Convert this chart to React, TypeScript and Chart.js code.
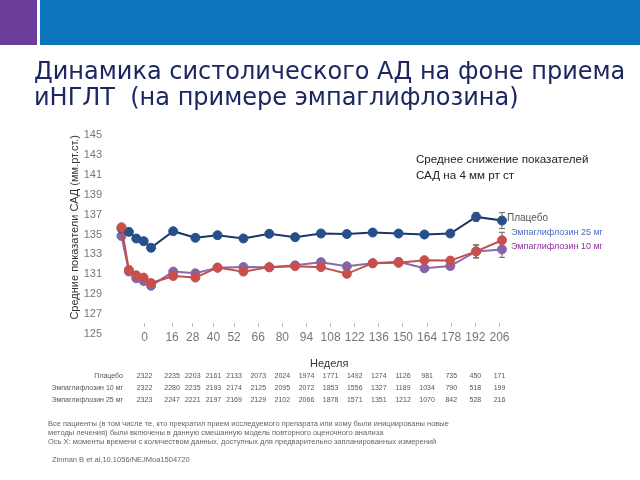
import React, { useEffect, useRef } from "react";
import { Chart, registerables } from "chart.js";

Chart.register(...registerables);

// ---- data ----
const weeks = [0, 4, 8, 12, 16, 28, 40, 52, 66, 80, 94, 108, 122, 136, 150, 164, 178, 192, 206];
const placebo = [135.6, 135.27, 134.6, 134.33, 133.67, 135.33, 134.67, 134.93, 134.6, 135.07, 134.73, 135.1, 135.05, 135.2, 135.1, 135.0, 135.1, 136.77, 136.4];
const empa25 = [135.73, 131.45, 130.9, 130.67, 130.12, 130.83, 130.67, 131.67, 131.27, 131.72, 131.82, 131.72, 131.05, 132.12, 132.15, 132.42, 132.38, 133.3, 134.42];
const empa10 = [134.85, 131.28, 130.6, 130.33, 129.85, 131.27, 131.1, 131.67, 131.73, 131.7, 131.9, 132.22, 131.8, 132.1, 132.25, 131.6, 131.83, 133.3, 133.5];
const placeboErr = [0, 0, 0, 0, 0, 0, 0, 0, 0, 0, 0, 0, 0, 0, 0.15, 0.15, 0.2, 0.45, 0.8];
const empa25Err = [0, 0, 0, 0, 0, 0, 0, 0, 0, 0, 0, 0, 0, 0, 0.15, 0.2, 0.2, 0.65, 0.8];
const empa10Err = [0, 0, 0, 0, 0, 0, 0, 0, 0, 0, 0, 0, 0, 0, 0.15, 0.2, 0.2, 0.65, 0.8];

const yTicks = [125, 127, 129, 131, 133, 135, 137, 139, 141, 143, 145];
const tickWeeks = [0, 16, 28, 40, 52, 66, 80, 94, 108, 122, 136, 150, 164, 178, 192, 206];

const rowLabels = ["Плацебо", "Эмпаглифлозин 10 мг", "Эмпаглифлозин 25 мг"];
const atRiskPlacebo = [2322, 2235, 2203, 2161, 2133, 2073, 2024, 1974, 1771, 1492, 1274, 1126, 981, 735, 450, 171];
const atRisk10 = [2322, 2280, 2235, 2193, 2174, 2125, 2095, 2072, 1853, 1556, 1327, 1189, 1034, 790, 518, 199];
const atRisk25 = [2323, 2247, 2221, 2197, 2169, 2129, 2102, 2066, 1878, 1571, 1351, 1212, 1070, 842, 528, 216];

const seriesNames = ["Плацебо", "Эмпаглифлозин 25 мг", "Эмпаглифлозин 10 мг"];

const FONT = "'Liberation Sans', Arial, sans-serif";

export default function App() {
  const ref = useRef<HTMLCanvasElement>(null);

  useEffect(() => {
    const canvas = ref.current;
    if (!canvas) return;
    const vals = [placebo, empa25, empa10];
    const errs = [placeboErr, empa25Err, empa10Err];

    const errorBars = {
      id: "errorBars",
      beforeDatasetsDraw(chart: any) {
        const ctx = chart.ctx;
        const xs = chart.scales.x;
        const ys = chart.scales.y;
        ctx.save();
        ctx.strokeStyle = "#666";
        ctx.lineWidth = 1;
        errs.forEach((arr, di) => {
          arr.forEach((e, i) => {
            if (!e) return;
            const x = xs.getPixelForValue(weeks[i]);
            const y1 = ys.getPixelForValue(vals[di][i] + e);
            const y2 = ys.getPixelForValue(vals[di][i] - e);
            ctx.beginPath();
            ctx.moveTo(x, y1);
            ctx.lineTo(x, y2);
            ctx.moveTo(x - 3, y1);
            ctx.lineTo(x + 3, y1);
            ctx.moveTo(x - 3, y2);
            ctx.lineTo(x + 3, y2);
            ctx.stroke();
          });
        });
        ctx.restore();
      },
    };

    const riskTable = {
      id: "riskTable",
      afterDraw(chart: any) {
        const ctx = chart.ctx;
        const xl = chart.scales.xl;
        const rows = [atRiskPlacebo, atRisk10, atRisk25];
        const rowY = [376, 388, 400];
        ctx.save();
        ctx.font = `7px ${FONT}`;
        ctx.fillStyle = "#555";
        ctx.textBaseline = "middle";
        rows.forEach((row, r) => {
          ctx.textAlign = "right";
          ctx.fillText(rowLabels[r], 123, rowY[r]);
          ctx.textAlign = "center";
          row.forEach((v, i) => {
            ctx.fillText(String(v), xl.getPixelForValue(tickWeeks[i]), rowY[r]);
          });
        });
        ctx.restore();
      },
    };

    const mk = (label: string, data: number[], line: string, pt: string, order: number) => ({
      label,
      data: weeks.map((w, i) => ({ x: w, y: data[i] })),
      borderColor: line,
      backgroundColor: pt,
      pointBackgroundColor: pt,
      pointBorderColor: pt,
      pointRadius: 4.5,
      pointBorderWidth: 1,
      borderWidth: 2,
      tension: 0,
      order,
      xAxisID: "x",
      yAxisID: "y",
    });

    const chart = new Chart(canvas, {
      type: "line",
      data: {
        datasets: [
          mk(seriesNames[0], placebo, "#1d3764", "#27508a", 1),
          mk(seriesNames[1], empa25, "#c0504d", "#c8504c", 0),
          mk(seriesNames[2], empa10, "#8a6aaa", "#8565a6", 2),
        ],
      },
      options: {
        animation: false,
        responsive: false,
        devicePixelRatio: 1,
        layout: { padding: { left: 68, right: 128, top: 135, bottom: 146 } },
        plugins: { legend: { display: false }, tooltip: { enabled: false } },
        scales: {
          x: { type: "linear", min: -3.519, max: 211.414, display: false },
          xl: {
            type: "linear",
            axis: "x",
            position: { y: 126.1 } as any,
            min: -17.118,
            max: 213.253,
            afterBuildTicks: (s: any) => {
              s.ticks = tickWeeks.map((v) => ({ value: v }));
            },
            afterFit: (s: any) => {
              s.height = 0;
            },
            ticks: {
              autoSkip: false,
              maxRotation: 0,
              color: "#777",
              padding: 3,
              font: { family: FONT, size: 12 },
              callback: (v: any) => String(v),
            },
            grid: { display: true, drawOnChartArea: false, drawTicks: true, tickLength: 4, color: "#bbb" },
            border: { display: false },
          },
          y: {
            min: 125,
            max: 145,
            afterBuildTicks: (s: any) => {
              s.ticks = yTicks.map((v) => ({ value: v }));
            },
            afterFit: (s: any) => {
              s.width = 47;
            },
            ticks: { color: "#777", padding: 5, font: { family: FONT, size: 11 } },
            grid: { display: false },
            border: { display: false },
            title: {
              display: true,
              text: "Средние показатели САД (мм.рт.ст.)",
              color: "#333",
              align: "end",
              padding: 0,
              font: { family: FONT, size: 11 },
            },
          },
        },
      },
      plugins: [errorBars, riskTable],
    } as any);
    return () => chart.destroy();
  }, []);

  const abs = (s: React.CSSProperties): React.CSSProperties => ({ position: "absolute", whiteSpace: "nowrap", ...s });

  return (
    <div style={{ position: "fixed", left: 0, top: 0, width: 640, height: 480, background: "#fff", overflow: "hidden" }}>
      <div style={abs({ left: 0, top: 0, width: 37, height: 45, background: "#6a3d9a" })} />
      <div style={abs({ left: 40, top: 0, width: 600, height: 45, background: "#0a75bc" })} />
      <canvas ref={ref} width={640} height={480} style={{ position: "absolute", left: 0, top: 0, width: 640, height: 480 }} />
      <div style={abs({ left: 34, top: 58, fontFamily: "'DejaVu Sans', sans-serif", fontSize: 24, lineHeight: "26px", color: "#1c2660" })}>
        Динамика систолического АД на фоне приема
        <br />
        иНГЛТ&nbsp; (на примере эмпаглифлозина)
      </div>
      <div style={abs({ left: 416, top: 151, fontFamily: FONT, fontSize: 11.6, lineHeight: "16px", color: "#222" })}>
        Среднее снижение показателей
        <br />
        САД на 4 мм рт ст
      </div>
      <div style={abs({ left: 507, top: 212, fontFamily: FONT, fontSize: 10, color: "#555" })}>Плацебо</div>
      <div style={abs({ left: 511, top: 227, fontFamily: FONT, fontSize: 9, color: "#4a6cc2" })}>Эмпаглифлозин 25 мг</div>
      <div style={abs({ left: 511, top: 241, fontFamily: FONT, fontSize: 9, color: "#8b2e9e" })}>Эмпаглифлозин 10 мг</div>
      <div style={abs({ left: 310, top: 357, fontFamily: FONT, fontSize: 11, color: "#333" })}>Неделя</div>
      <div style={abs({ left: 48, top: 419, fontFamily: FONT, fontSize: 7.5, lineHeight: "9px", color: "#666" })}>
        Все пациенты (в том числе те, кто прекратил прием исследуемого препарата или кому были инициированы новые
        <br />
        методы лечения) были включены в данную смешанную модель повторного оценочного анализа
        <br />
        Ось Х: моменты времени с количеством данных, доступных для предварительно запланированных измерений
      </div>
      <div style={abs({ left: 52, top: 455, fontFamily: FONT, fontSize: 7.5, color: "#666" })}>Zinman B et al,10.1056/NEJMoa1504720</div>
    </div>
  );
}
